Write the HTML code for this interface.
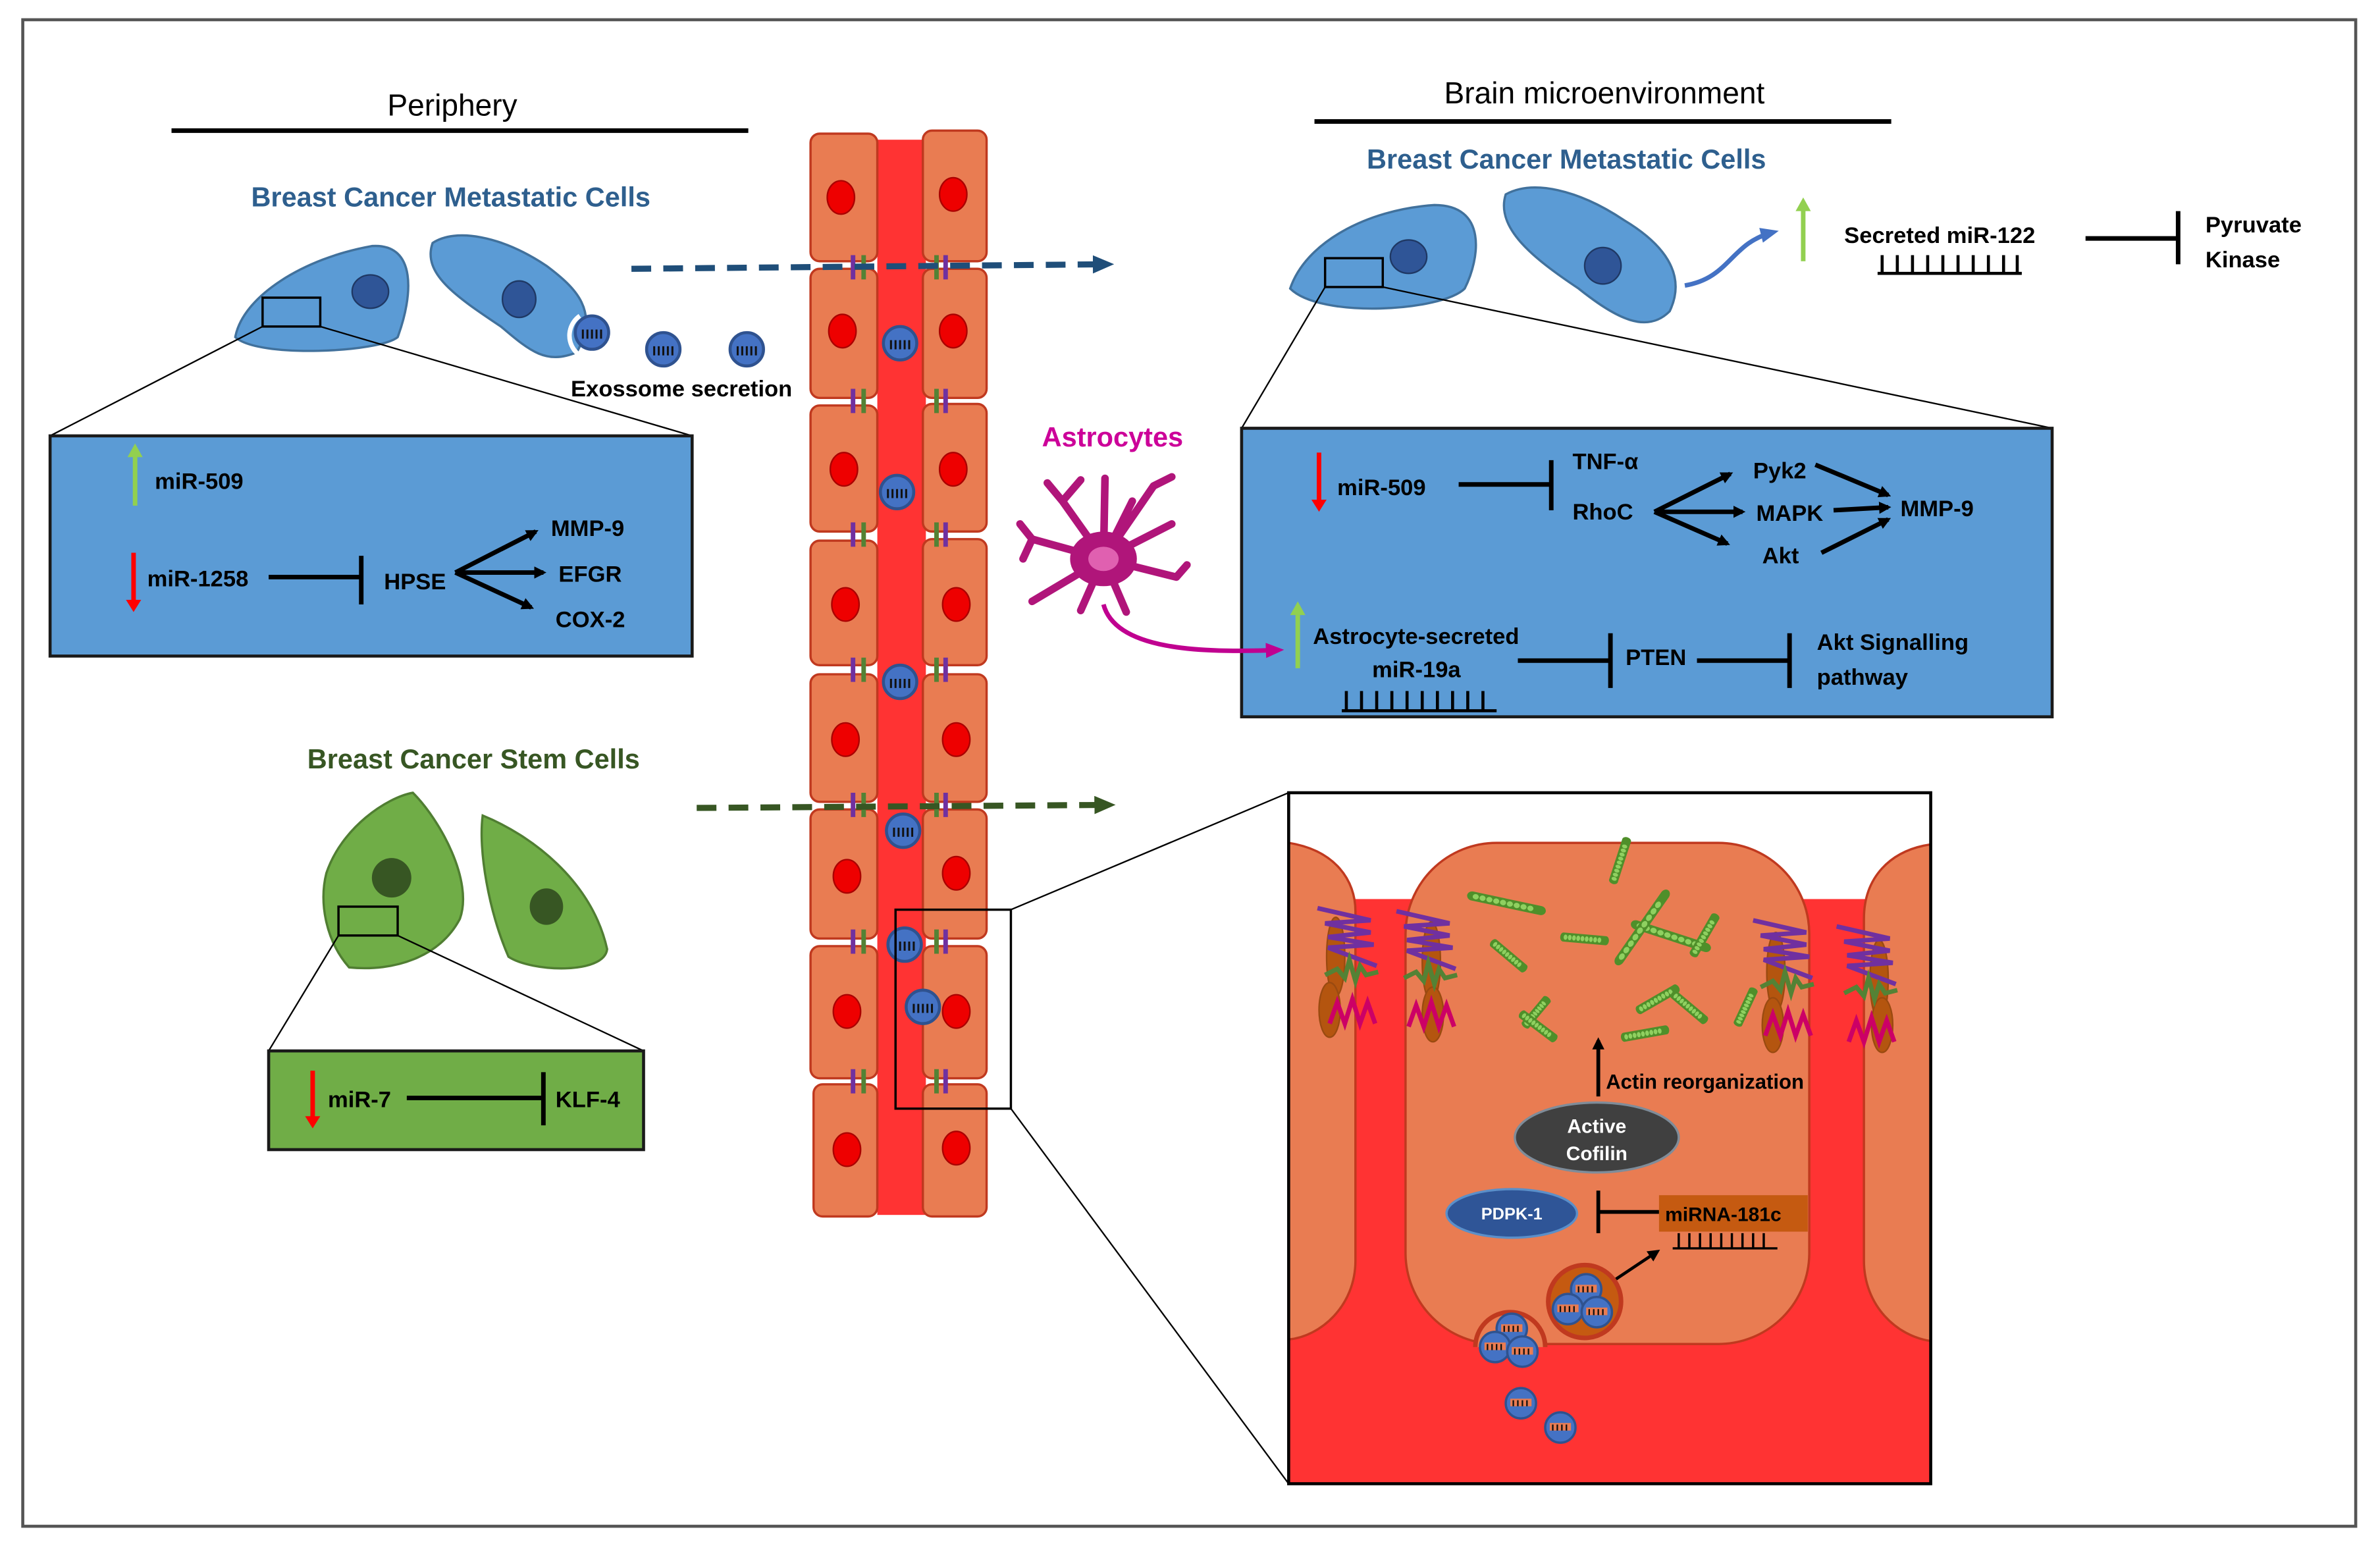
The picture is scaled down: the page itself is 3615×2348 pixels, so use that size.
<!DOCTYPE html>
<html><head><meta charset="utf-8"><style>
html,body{margin:0;padding:0;background:#fff}
svg{display:block}
text{font-family:"Liberation Sans",Arial,sans-serif;font-weight:bold}
</style></head><body>
<svg width="3615" height="2348" viewBox="0 0 1568 1018" preserveAspectRatio="none" xmlns="http://www.w3.org/2000/svg">
<defs>
<marker id="ab" markerWidth="8" markerHeight="8" refX="6" refY="4" orient="auto" markerUnits="userSpaceOnUse"><path d="M0,0 L8,4 L0,8 z" fill="#000"/></marker>
<marker id="ablue" markerWidth="14" markerHeight="12" refX="10" refY="6" orient="auto" markerUnits="userSpaceOnUse"><path d="M0,0 L14,6 L0,12 z" fill="#1f4e79"/></marker>
<marker id="agreen" markerWidth="14" markerHeight="12" refX="10" refY="6" orient="auto" markerUnits="userSpaceOnUse"><path d="M0,0 L14,6 L0,12 z" fill="#375623"/></marker>
<marker id="amag" markerWidth="12" markerHeight="10" refX="8" refY="5" orient="auto" markerUnits="userSpaceOnUse"><path d="M0,0 L12,5 L0,10 z" fill="#c00090"/></marker>
<marker id="abl2" markerWidth="12" markerHeight="10" refX="8" refY="5" orient="auto" markerUnits="userSpaceOnUse"><path d="M0,0 L12,5 L0,10 z" fill="#4472c4"/></marker>
<g id="ves"><circle r="11" fill="#4472c4" stroke="#2f528f" stroke-width="2"/><path d="M-6,-2 v6 M-3,-2 v6 M0,-2 v6 M3,-2 v6 M6,-2 v6" stroke="#111" stroke-width="1.3"/></g>
<g id="ves2"><circle r="10" fill="#4472c4" stroke="#2f528f" stroke-width="1.5"/><rect x="-7" y="-3" width="14" height="5" fill="#e97c52"/><path d="M-5,-2 v4 M-2,-2 v4 M1,-2 v4 M4,-2 v4" stroke="#111" stroke-width="1"/></g>
<g id="fil"><path d="M0,0 l40,0" stroke="#4f8f2a" stroke-width="6" stroke-linecap="round"/><path d="M2,0 l36,0" stroke="#8fd060" stroke-width="3.5" stroke-dasharray="0 4" stroke-linecap="round"/></g>
<g id="jn" stroke-width="3"><line x1="562" y1="-8" x2="562" y2="8" stroke="#7030a0"/><line x1="569" y1="-8" x2="569" y2="8" stroke="#548235"/><line x1="617" y1="-8" x2="617" y2="8" stroke="#548235"/><line x1="623" y1="-8" x2="623" y2="8" stroke="#7030a0"/></g>
<g id="jj" fill="none" stroke-width="3"><path d="M0,0 l35,8 l-30,2 l30,6 l-28,3 l30,5 l-30,2 l32,12" stroke="#7030a0"/><path d="M5,44 l8,-4 l5,6 l3,-12 l4,14 l3,-10 l4,6 l8,-2" stroke="#548235"/><path d="M8,76 l5,-14 l5,14 l5,-16 l5,16 l5,-14 l5,14" stroke="#cc0066"/></g>
</defs>
<rect x="15" y="13" width="1537" height="992" fill="#fff" stroke="#555" stroke-width="2"/>

<!-- headers -->
<text x="298" y="76" font-size="20" text-anchor="middle" style="font-weight:normal">Periphery</text>
<line x1="113" y1="86" x2="493" y2="86" stroke="#000" stroke-width="3"/>
<text x="1057" y="68" font-size="20" text-anchor="middle" style="font-weight:normal">Brain microenvironment</text>
<line x1="866" y1="80" x2="1246" y2="80" stroke="#000" stroke-width="3"/>

<!-- left metastatic -->
<text x="297" y="136" font-size="18" fill="#2e5f8e" text-anchor="middle">Breast Cancer Metastatic Cells</text>
<path d="M155,222 C160,195 200,170 245,162 C275,160 272,195 262,222 C250,232 170,236 155,222 Z" fill="#5b9bd5" stroke="#41719c" stroke-width="1.5"/>
<ellipse cx="244" cy="192" rx="12" ry="11" fill="#2f5597" stroke="#1f3864"/>
<path d="M285,160 C300,150 330,155 360,175 C380,190 395,205 380,232 C360,240 350,232 330,215 C300,195 278,180 285,160 Z" fill="#5b9bd5" stroke="#41719c" stroke-width="1.5"/>
<ellipse cx="342" cy="197" rx="11" ry="12" fill="#2f5597" stroke="#1f3864"/>
<path d="M382,208 A14,14 0 1 0 400,234" fill="none" stroke="#fff" stroke-width="3"/>
<use href="#ves" x="390" y="219"/><use href="#ves" x="437" y="230"/><use href="#ves" x="492" y="230"/>
<text x="449" y="261" font-size="15" text-anchor="middle">Exossome secretion</text>
<rect x="173" y="196" width="38" height="19" fill="none" stroke="#000" stroke-width="1.5"/>
<line x1="173" y1="215" x2="33" y2="287" stroke="#000"/><line x1="211" y1="215" x2="456" y2="287" stroke="#000"/>
<rect x="33" y="287" width="423" height="145" fill="#5b9bd5" stroke="#1a1a1a" stroke-width="2"/>
<line x1="89" y1="333" x2="89" y2="300" stroke="#92d050" stroke-width="3"/>
<path d="M84,301 L89,292 L94,301z" fill="#92d050"/>
<text x="102" y="322" font-size="15">miR-509</text>
<line x1="88" y1="364" x2="88" y2="398" stroke="#ff0000" stroke-width="3"/><path d="M83,395 L88,403 L93,395z" fill="#ff0000"/>
<text x="97" y="386" font-size="15">miR-1258</text>
<line x1="177" y1="380" x2="237" y2="380" stroke="#000" stroke-width="3"/><line x1="238" y1="366" x2="238" y2="398" stroke="#000" stroke-width="3"/>
<text x="253" y="388" font-size="15">HPSE</text>
<g stroke="#000" stroke-width="3" marker-end="url(#ab)"><line x1="300" y1="377" x2="353" y2="350"/><line x1="300" y1="377" x2="358" y2="377"/><line x1="300" y1="377" x2="350" y2="400"/></g>
<text x="363" y="353" font-size="15">MMP-9</text><text x="368" y="383" font-size="15">EFGR</text><text x="366" y="413" font-size="15">COX-2</text>

<!-- stem cells -->
<text x="312" y="506" font-size="18" fill="#375623" text-anchor="middle">Breast Cancer Stem Cells</text>
<path d="M215,575 C225,545 255,525 272,522 C290,540 312,580 303,605 C290,630 260,640 230,637 C215,620 210,595 215,575 Z" fill="#70ad47" stroke="#507e32" stroke-width="1.5"/>
<ellipse cx="258" cy="578" rx="13" ry="13" fill="#375623"/>
<path d="M318,537 C350,550 390,580 400,625 C398,642 350,640 335,630 C322,600 315,560 318,537 Z" fill="#70ad47" stroke="#507e32" stroke-width="1.5"/>
<ellipse cx="360" cy="597" rx="11" ry="12" fill="#375623"/>
<rect x="223" y="597" width="39" height="19" fill="none" stroke="#000" stroke-width="1.5"/>
<line x1="223" y1="616" x2="177" y2="692" stroke="#000"/><line x1="262" y1="616" x2="424" y2="692" stroke="#000"/>
<rect x="177" y="692" width="247" height="65" fill="#70ad47" stroke="#1a1a1a" stroke-width="2"/>
<line x1="206" y1="705" x2="206" y2="737" stroke="#ff0000" stroke-width="3"/><path d="M201,735 L206,743 L211,735z" fill="#ff0000"/>
<text x="216" y="729" font-size="15">miR-7</text>
<line x1="268" y1="723" x2="357" y2="723" stroke="#000" stroke-width="3"/><line x1="358" y1="706" x2="358" y2="741" stroke="#000" stroke-width="3"/>
<text x="366" y="729" font-size="15">KLF-4</text>

<!-- vessel -->
<rect x="578" y="92" width="32" height="708" fill="#ff3333"/>
<g fill="#e97c52" stroke="#c0391f" stroke-width="1.5">
<rect x="534" y="88" width="44" height="84" rx="6"/><rect x="608" y="86" width="42" height="86" rx="6"/>
<rect x="534" y="177" width="44" height="85" rx="6"/><rect x="608" y="177" width="42" height="85" rx="6"/>
<rect x="534" y="267" width="44" height="83" rx="6"/><rect x="608" y="266" width="42" height="84" rx="6"/>
<rect x="534" y="356" width="44" height="82" rx="6"/><rect x="608" y="355" width="42" height="83" rx="6"/>
<rect x="534" y="444" width="44" height="84" rx="6"/><rect x="608" y="444" width="42" height="84" rx="6"/>
<rect x="534" y="533" width="44" height="85" rx="6"/><rect x="608" y="533" width="42" height="85" rx="6"/>
<rect x="534" y="623" width="44" height="87" rx="6"/><rect x="608" y="623" width="42" height="87" rx="6"/>
<rect x="536" y="714" width="42" height="87" rx="6"/><rect x="608" y="714" width="42" height="87" rx="6"/>
</g>
<g fill="#ee0000" stroke="#a00" stroke-width="1">
<ellipse cx="554" cy="130" rx="9" ry="11"/><ellipse cx="628" cy="128" rx="9" ry="11"/>
<ellipse cx="555" cy="218" rx="9" ry="11"/><ellipse cx="628" cy="218" rx="9" ry="11"/>
<ellipse cx="556" cy="309" rx="9" ry="11"/><ellipse cx="628" cy="309" rx="9" ry="11"/>
<ellipse cx="557" cy="398" rx="9" ry="11"/><ellipse cx="630" cy="398" rx="9" ry="11"/>
<ellipse cx="557" cy="487" rx="9" ry="11"/><ellipse cx="630" cy="487" rx="9" ry="11"/>
<ellipse cx="558" cy="577" rx="9" ry="11"/><ellipse cx="630" cy="575" rx="9" ry="11"/>
<ellipse cx="558" cy="666" rx="9" ry="11"/><ellipse cx="630" cy="666" rx="9" ry="11"/>
<ellipse cx="558" cy="757" rx="9" ry="11"/><ellipse cx="630" cy="756" rx="9" ry="11"/>
</g>
<use href="#jn" y="176"/><use href="#jn" y="264"/><use href="#jn" y="352"/><use href="#jn" y="441"/><use href="#jn" y="530"/><use href="#jn" y="620"/><use href="#jn" y="712"/>
<use href="#ves" x="593" y="226"/><use href="#ves" x="591" y="324"/><use href="#ves" x="593" y="449"/><use href="#ves" x="595" y="547"/><use href="#ves" x="596" y="622"/><use href="#ves" x="608" y="663"/>
<rect x="590" y="599" width="76" height="131" fill="none" stroke="#000" stroke-width="1.5"/>
<line x1="666" y1="599" x2="849" y2="522" stroke="#000"/><line x1="666" y1="730" x2="849" y2="977" stroke="#000"/>

<!-- dashed arrows -->
<line x1="416" y1="177" x2="730" y2="174" stroke="#1f4e79" stroke-width="4" stroke-dasharray="13 8" marker-end="url(#ablue)"/>
<line x1="459" y1="532" x2="731" y2="530" stroke="#375623" stroke-width="4" stroke-dasharray="13 8" marker-end="url(#agreen)"/>

<!-- right metastatic -->
<text x="1032" y="111" font-size="18" fill="#2e5f8e" text-anchor="middle">Breast Cancer Metastatic Cells</text>
<path d="M850,190 C860,160 900,138 945,135 C980,135 975,170 965,190 C950,205 870,210 850,190 Z" fill="#5b9bd5" stroke="#41719c" stroke-width="1.5"/>
<ellipse cx="928" cy="169" rx="12" ry="11" fill="#2f5597" stroke="#1f3864"/>
<path d="M992,128 C1010,118 1040,125 1070,145 C1095,160 1112,180 1100,205 C1085,220 1065,210 1040,190 C1010,170 985,150 992,128 Z" fill="#5b9bd5" stroke="#41719c" stroke-width="1.5"/>
<ellipse cx="1056" cy="175" rx="12" ry="12" fill="#2f5597" stroke="#1f3864"/>
<path d="M1110,188 C1140,183 1140,160 1168,153" fill="none" stroke="#4472c4" stroke-width="3" marker-end="url(#abl2)"/>
<line x1="1188" y1="172" x2="1188" y2="138" stroke="#92d050" stroke-width="3"/><path d="M1183,139 L1188,130 L1193,139z" fill="#92d050"/>
<text x="1215" y="160" font-size="15">Secreted miR-122</text>
<path d="M1237,180 H1332 M1240,168 V180 M1250,168 V180 M1260,168 V180 M1270,168 V180 M1280,168 V180 M1290,168 V180 M1300,168 V180 M1310,168 V180 M1320,168 V180 M1329,168 V180" stroke="#000" stroke-width="2"/>
<line x1="1374" y1="157" x2="1434" y2="157" stroke="#000" stroke-width="3"/><line x1="1435" y1="139" x2="1435" y2="174" stroke="#000" stroke-width="3"/>
<text x="1453" y="153" font-size="15">Pyruvate</text><text x="1453" y="176" font-size="15">Kinase</text>
<rect x="873" y="170" width="38" height="19" fill="none" stroke="#000" stroke-width="1.5"/>
<line x1="873" y1="189" x2="818" y2="282" stroke="#000"/><line x1="911" y1="189" x2="1352" y2="282" stroke="#000"/>
<rect x="818" y="282" width="534" height="190" fill="#5b9bd5" stroke="#1a1a1a" stroke-width="2"/>
<line x1="869" y1="298" x2="869" y2="330" stroke="#ff0000" stroke-width="3"/><path d="M864,329 L869,337 L874,329z" fill="#ff0000"/>
<text x="881" y="326" font-size="15">miR-509</text>
<line x1="961" y1="319" x2="1021" y2="319" stroke="#000" stroke-width="3"/><line x1="1022" y1="303" x2="1022" y2="336" stroke="#000" stroke-width="3"/>
<text x="1036" y="309" font-size="15">TNF-α</text><text x="1036" y="342" font-size="15">RhoC</text>
<g stroke="#000" stroke-width="3" marker-end="url(#ab)"><line x1="1090" y1="337" x2="1140" y2="312"/><line x1="1090" y1="337" x2="1148" y2="337"/><line x1="1090" y1="337" x2="1138" y2="358"/>
<line x1="1196" y1="306" x2="1244" y2="326"/><line x1="1208" y1="336" x2="1244" y2="334"/><line x1="1200" y1="364" x2="1244" y2="342"/></g>
<text x="1155" y="315" font-size="15">Pyk2</text><text x="1157" y="343" font-size="15">MAPK</text><text x="1161" y="371" font-size="15">Akt</text>
<text x="1252" y="340" font-size="15">MMP-9</text>
<line x1="855" y1="440" x2="855" y2="405" stroke="#92d050" stroke-width="3"/><path d="M850,405 L855,396 L860,405z" fill="#92d050"/>
<text x="865" y="424" font-size="15">Astrocyte-secreted</text><text x="904" y="446" font-size="15">miR-19a</text>
<path d="M884,468 H986 M887,455 V468 M897,455 V468 M907,455 V468 M917,455 V468 M927,455 V468 M937,455 V468 M947,455 V468 M957,455 V468 M967,455 V468 M977,455 V468" stroke="#000" stroke-width="2"/>
<line x1="1000" y1="435" x2="1060" y2="435" stroke="#000" stroke-width="3"/><line x1="1061" y1="417" x2="1061" y2="453" stroke="#000" stroke-width="3"/>
<text x="1071" y="438" font-size="15">PTEN</text>
<line x1="1118" y1="435" x2="1178" y2="435" stroke="#000" stroke-width="3"/><line x1="1179" y1="417" x2="1179" y2="453" stroke="#000" stroke-width="3"/>
<text x="1197" y="428" font-size="15">Akt Signalling</text><text x="1197" y="451" font-size="15">pathway</text>

<!-- astrocyte -->
<text x="733" y="294" font-size="18" fill="#cc0099" text-anchor="middle">Astrocytes</text>
<g stroke="#b0157a" stroke-width="5" stroke-linecap="round" fill="none">
<path d="M727,368 L700,330 M727,368 L680,355 M727,368 L690,390 M727,368 L712,402 M727,368 L742,403 M727,368 L775,380 M727,368 L772,345 M727,368 L760,320 M727,368 L728,315 M727,368 L746,330 M700,330 L690,318 M700,330 L712,316 M680,355 L672,345 M680,355 L674,368 M775,380 L782,372 M760,320 L772,314 M690,390 L680,396"/>
</g>
<ellipse cx="727" cy="368" rx="22" ry="18" fill="#b0157a"/>
<ellipse cx="727" cy="368" rx="10" ry="8" fill="#e060b0"/>
<path d="M727,398 C735,428 790,430 842,428" fill="none" stroke="#c00090" stroke-width="3" marker-end="url(#amag)"/>

<!-- inset -->
<svg x="849" y="522" width="423" height="455" viewBox="849 522 423 455">
<rect x="849" y="522" width="423" height="455" fill="#fff"/>
<rect x="849" y="592" width="423" height="385" fill="#ff3333"/>
<path d="M849,555 C880,560 893,580 893,600 V830 C893,860 870,880 849,882 Z" fill="#e97c52" stroke="#c0391f" stroke-width="1.5"/>
<rect x="926" y="555" width="266" height="330" rx="60" fill="#e97c52" stroke="#c0391f" stroke-width="1.5"/>
<path d="M1272,556 C1245,560 1228,578 1228,605 V830 C1228,860 1250,880 1272,883 Z" fill="#e97c52" stroke="#c0391f" stroke-width="1.5"/>
<g fill="#b4550f" stroke="#9a4a10" stroke-width="1">
<ellipse cx="880" cy="630" rx="6" ry="26"/><ellipse cx="876" cy="665" rx="7" ry="18"/><ellipse cx="943" cy="633" rx="6" ry="26"/><ellipse cx="944" cy="668" rx="7" ry="18"/>
<ellipse cx="1170" cy="640" rx="6" ry="26"/><ellipse cx="1168" cy="675" rx="7" ry="18"/><ellipse cx="1238" cy="645" rx="6" ry="26"/><ellipse cx="1240" cy="675" rx="7" ry="18"/>
</g>
<use href="#jj" x="868" y="598"/><use href="#jj" x="920" y="600"/><use href="#jj" x="1155" y="606"/><use href="#jj" x="1210" y="610"/>
<use href="#fil" transform="translate(970,590) rotate(12) scale(1.15,1)"/>
<use href="#fil" transform="translate(1063,580) rotate(-72) scale(0.7,1)"/>
<use href="#fil" transform="translate(1078,609) rotate(18) scale(1.2,1)"/>
<use href="#fil" transform="translate(1116,628) rotate(-60) scale(0.7,1)"/>
<use href="#fil" transform="translate(1030,617) rotate(5) scale(0.7,1)"/>
<use href="#fil" transform="translate(984,621) rotate(40) scale(0.65,1)"/>
<use href="#fil" transform="translate(1067,632) rotate(-55) scale(1.3,1)"/>
<use href="#fil" transform="translate(1080,665) rotate(-30) scale(0.7,1)"/>
<use href="#fil" transform="translate(1103,655) rotate(40) scale(0.65,1)"/>
<use href="#fil" transform="translate(1005,675) rotate(-50) scale(0.55,1)"/>
<use href="#fil" transform="translate(1003,668) rotate(37) scale(0.65,1)"/>
<use href="#fil" transform="translate(1070,683) rotate(-10) scale(0.7,1)"/>
<use href="#fil" transform="translate(1145,674) rotate(-65) scale(0.6,1)"/>
<line x1="1053" y1="722" x2="1053" y2="685" stroke="#000" stroke-width="2.5" marker-end="url(#ab)"/>
<text x="1058" y="717" font-size="13.5">Actin reorganization</text>
<ellipse cx="1052" cy="749" rx="54" ry="23" fill="#404040" stroke="#7f8c99" stroke-width="1.5"/>
<text x="1052" y="746" font-size="13" fill="#fff" text-anchor="middle">Active</text><text x="1052" y="764" font-size="13" fill="#fff" text-anchor="middle">Cofilin</text>
<ellipse cx="996" cy="799" rx="43" ry="16" fill="#2f5597" stroke="#5b8fc9" stroke-width="1.5"/>
<text x="996" y="803" font-size="11" fill="#fff" text-anchor="middle">PDPK-1</text>
<line x1="1053" y1="784" x2="1053" y2="812" stroke="#000" stroke-width="2.5"/><line x1="1053" y1="798" x2="1093" y2="798" stroke="#000" stroke-width="2.5"/>
<rect x="1093" y="787" width="98" height="24" fill="#c55a11"/>
<text x="1097" y="804" font-size="13">miRNA-181c</text>
<rect x="1101" y="811" width="70" height="12" fill="#e97c52"/>
<path d="M1102,822 H1171 M1106,812 V822 M1113,812 V822 M1120,812 V822 M1127,812 V822 M1134,812 V822 M1141,812 V822 M1148,812 V822 M1155,812 V822 M1162,812 V822" stroke="#000" stroke-width="1.5"/>
<line x1="1059" y1="846" x2="1092" y2="824" stroke="#000" stroke-width="2" marker-end="url(#ab)"/>
<circle cx="1044" cy="857" r="24" fill="#c55a11" stroke="#c0391f" stroke-width="3"/>
<use href="#ves2" x="1045" y="849"/><use href="#ves2" x="1033" y="862"/><use href="#ves2" x="1052" y="864"/>
<path d="M972,887 A23,23 0 0 1 1018,887" fill="#e97c52" stroke="#c0391f" stroke-width="3"/>
<use href="#ves2" x="996" y="875"/><use href="#ves2" x="985" y="887"/><use href="#ves2" x="1003" y="890"/>
<use href="#ves2" x="1002" y="924"/><use href="#ves2" x="1028" y="940"/>
</svg>
<rect x="849" y="522" width="423" height="455" fill="none" stroke="#000" stroke-width="2"/>
</svg>
</body></html>
